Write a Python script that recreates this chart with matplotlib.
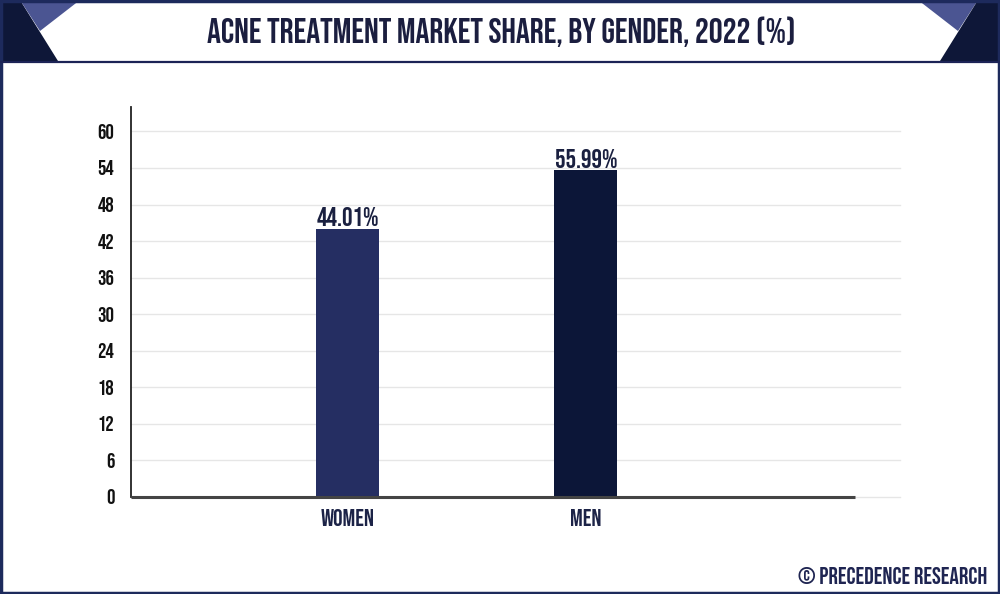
import matplotlib
matplotlib.use("Agg")
import matplotlib.pyplot as plt
from matplotlib import font_manager as fm
from matplotlib.patches import Polygon, Rectangle

# ---------------- data ----------------
categories = ["WOMEN", "MEN"]
bar_heights = [44.01, 53.6]          # heights as drawn in the reference
bar_labels = ["44.01%", "55.99%"]    # labels as printed in the reference
bar_colors = ["#252e62", "#0c1638"]
y_ticks = [0, 6, 12, 18, 24, 30, 36, 42, 48, 54, 60]
title = "ACNE TREATMENT MARKET SHARE, BY GENDER, 2022 (%)"
footer = "© PRECEDENCE RESEARCH"


# ---------------- font selection ----------------
def pick_font_path():
    files = [f.fname for f in fm.fontManager.ttflist]
    prefs = [
        ("BebasNeue", ""), ("Oswald", "Bold"),
        ("ExtraCondensedBold", ""), ("ExtraCondensed-Bold", ""),
        ("CondensedBold", ""), ("Condensed-Bold", ""), ("Condensed Bold", ""),
        ("NarrowBold", ""), ("Narrow-Bold", ""),
    ]
    for key, extra in prefs:
        for p in files:
            b = p.split("/")[-1]
            if key in b and extra in b and "Italic" not in b and "Oblique" not in b:
                return p
    return None


fpath = pick_font_path()


def fp(size):
    if fpath:
        return fm.FontProperties(fname=fpath, size=size)
    return fm.FontProperties(family="DejaVu Sans", weight="bold", stretch="condensed", size=size)


W, H = 1000, 594
fig = plt.figure(figsize=(W / 100, H / 100), dpi=100)
fig.patch.set_facecolor("white")

# ---------------- main axes ----------------
ax_left, ax_right = 131, 900
ax_top, ax_bottom = 107, 497
ax = fig.add_axes([ax_left / W, (H - ax_bottom) / H,
                   (ax_right - ax_left) / W, (ax_bottom - ax_top) / H])
x = list(range(len(categories)))
ax.bar(x, bar_heights, width=0.264, color=bar_colors, zorder=3)
ax.set_xlim(-0.908, 2.317)
ax.set_ylim(0, 64)
ax.set_yticks(y_ticks)
ax.set_yticklabels([str(t) for t in y_ticks])
for lab in ax.get_yticklabels():
    lab.set_fontproperties(fp(15))
    lab.set_color("#111111")
ax.set_xticks(x)
ax.set_xticklabels(categories)
for lab in ax.get_xticklabels():
    lab.set_fontproperties(fp(17))
    lab.set_color("#1c2347")
ax.tick_params(axis="y", length=0, pad=12)
ax.tick_params(axis="x", length=0, pad=9)
ax.grid(axis="y", color="#e6e6e6", linewidth=1.0, zorder=0)
for gl in ax.get_ygridlines():
    gl.set_clip_on(False)
for s in ["top", "right", "bottom"]:
    ax.spines[s].set_visible(False)
ax.spines["left"].set_color("#222222")
ax.spines["left"].set_linewidth(1.3)
ax.axhline(0, xmin=0, xmax=(855 - ax_left) / (ax_right - ax_left),
           color="#444444", linewidth=2.2, zorder=4, solid_capstyle="butt", clip_on=False)

for xi, h, lab in zip(x, bar_heights, bar_labels):
    ax.annotate(lab, (xi, h), xytext=(0, 2), textcoords="offset points",
                ha="center", va="bottom", color="#1a2040", fontproperties=fp(19))

# ---------------- decoration overlay (pixel coords) ----------------
ov2 = fig.add_axes([0, 0, 1, 1], zorder=10)
ov2.set_xlim(0, W)
ov2.set_ylim(H, 0)
ov2.axis("off")
ov2.patch.set_alpha(0)

dark = "#0e1738"
light = "#4b5592"
ov2.add_patch(Polygon([(0, 0), (20, 0), (58, 61), (0, 61)], closed=True, color=dark, lw=0))
ov2.add_patch(Polygon([(20, 0), (80, 0), (40, 31)], closed=True, color=light, lw=0))
ov2.add_patch(Polygon([(918, 0), (978, 0), (958, 31)], closed=True, color=light, lw=0))
ov2.add_patch(Polygon([(978, 0), (1000, 0), (1000, 61), (940, 61)], closed=True, color=dark, lw=0))
ov2.plot([0, W], [61.5, 61.5], color="#1c2356", lw=1.6, solid_capstyle="butt")
ov2.add_patch(Rectangle((1, 1), W - 2, H - 2, fill=False, edgecolor="#1d2a5c", lw=2.5))

ov2.text(501, 32, title, ha="center", va="center", color="#1b1e3f", fontproperties=fp(25))
ov2.text(987, 576, footer, ha="right", va="center", color="#1f2552", fontproperties=fp(17))

fig.savefig("out.png", dpi=100, facecolor="white")
